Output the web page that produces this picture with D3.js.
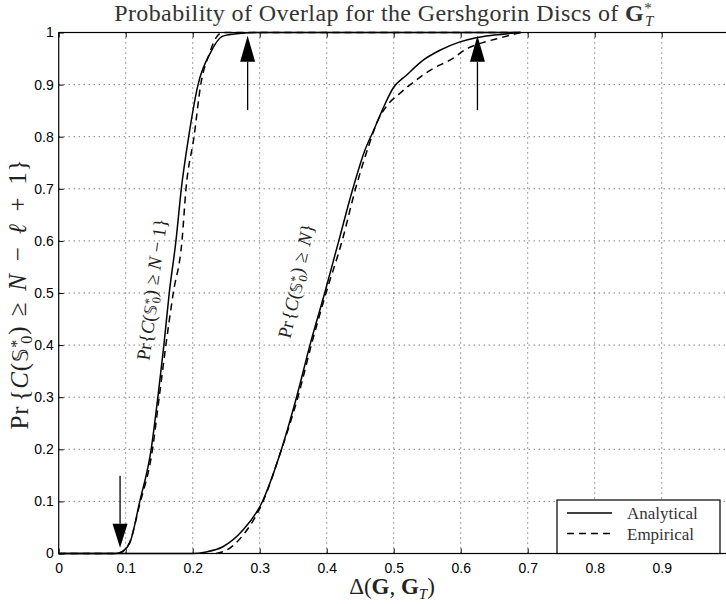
<!DOCTYPE html>
<html>
<head>
<meta charset="utf-8">
<script src="https://cdn.jsdelivr.net/npm/d3@7"></script>
<style>
  body { margin: 0; background: #fff; }
  svg { display: block; }
  .tick text { font-family: "Liberation Sans", Arial, sans-serif; font-size: 14px; }
  .serif { font-family: "Liberation Serif", "DejaVu Serif", serif; }
</style>
</head>
<body>
<div id="viz"></div>
<script>
// left pair: Pr{C >= N-1}
var xLeftAna = [0, 0.085, 0.095, 0.106, 0.121, 0.138, 0.148, 0.157, 0.165, 0.175, 0.183, 0.194, 0.208, 0.226, 0.245, 0.27, 0.3, 0.69];
var yLeftAna = [0, 0, 0.004, 0.02, 0.1, 0.2, 0.3, 0.4, 0.5, 0.6, 0.7, 0.8, 0.9, 0.96, 0.993, 0.998, 1, 1];
var xLeftEmp = [0, 0.088, 0.097, 0.107, 0.12, 0.14, 0.15, 0.16, 0.171, 0.184, 0.19, 0.202, 0.212, 0.225, 0.235, 0.245, 0.69];
var yLeftEmp = [0, 0, 0.005, 0.025, 0.09, 0.2, 0.3, 0.4, 0.5, 0.6, 0.7, 0.8, 0.9, 0.96, 0.99, 1, 1];
// right pair: Pr{C >= N}
var xRightAna = [0, 0.2, 0.22, 0.245, 0.275, 0.303, 0.33, 0.355, 0.375, 0.397, 0.418, 0.439, 0.457, 0.470, 0.484, 0.499, 0.519, 0.544, 0.569, 0.599, 0.623, 0.65, 0.689];
var yRightAna = [0, 0, 0.003, 0.013, 0.045, 0.097, 0.19, 0.3, 0.4, 0.5, 0.6, 0.7, 0.774, 0.812, 0.854, 0.893, 0.918, 0.947, 0.966, 0.982, 0.99, 0.995, 1];
var xRightEmp = [0.235, 0.25, 0.275, 0.305, 0.33, 0.357, 0.377, 0.399, 0.423, 0.443, 0.462, 0.476, 0.489, 0.509, 0.534, 0.559, 0.584, 0.611, 0.634, 0.66, 0.689];
var yRightEmp = [0, 0.006, 0.035, 0.1, 0.19, 0.3, 0.4, 0.5, 0.6, 0.7, 0.78, 0.83, 0.858, 0.883, 0.909, 0.931, 0.947, 0.97, 0.981, 0.99, 1];

var xTicks = [0, 0.1, 0.2, 0.3, 0.4, 0.5, 0.6, 0.7, 0.8, 0.9];
var yTicks = [0, 0.1, 0.2, 0.3, 0.4, 0.5, 0.6, 0.7, 0.8, 0.9, 1];
var legendLabels = ['Analytical', 'Empirical'];

var width = 726, height = 604;
var padL = 58.7, padR = 728.7, padT = 32.5, padB = 553.5;

var x = d3.scaleLinear().domain([0, 1]).range([padL, padR]);
var y = d3.scaleLinear().domain([0, 1]).range([padB, padT]);

var svg = d3.select('#viz').append('svg')
  .attr('width', width)
  .attr('height', height);

// grid
svg.append('g').selectAll('line').data(xTicks.slice(1))
  .enter().append('line')
    .attr('x1', d => x(d)).attr('x2', d => x(d))
    .attr('y1', padT).attr('y2', padB)
    .style('stroke', '#444').style('stroke-width', 1)
    .style('stroke-dasharray', '1,4');
svg.append('g').selectAll('line').data(yTicks.slice(1, -1))
  .enter().append('line')
    .attr('x1', padL).attr('x2', padR)
    .attr('y1', d => y(d)).attr('y2', d => y(d))
    .style('stroke', '#444').style('stroke-width', 1)
    .style('stroke-dasharray', '1,4');

// axes (ticks inside, MATLAB style)
var fmt = d3.format('');
svg.append('g').attr('transform', 'translate(0,' + padB + ')')
  .call(d3.axisBottom(x).tickValues(xTicks).tickFormat(fmt).tickSizeInner(-5).tickSizeOuter(0).tickPadding(10))
  .call(g => g.select('.domain').remove());
svg.append('g').attr('transform', 'translate(0,' + padT + ')')
  .call(d3.axisTop(x).tickValues(xTicks).tickFormat('').tickSizeInner(-5).tickSizeOuter(0))
  .call(g => g.select('.domain').remove());
svg.append('g').attr('transform', 'translate(' + padL + ',0)')
  .call(d3.axisLeft(y).tickValues(yTicks).tickFormat(fmt).tickSizeInner(-5).tickSizeOuter(0).tickPadding(5))
  .call(g => g.select('.domain').remove());
svg.selectAll('.tick line').style('stroke', '#000');

// frame
svg.append('rect')
  .attr('x', padL).attr('y', padT)
  .attr('width', padR - padL).attr('height', padB - padT)
  .style('fill', 'none').style('stroke', '#000').style('stroke-width', 1.2);

// curves
var line = d3.line().x(d => x(d[0])).y(d => y(d[1])).curve(d3.curveMonotoneX);
function pairs(xs, ys) { return xs.map(function(v, i) { return [v, ys[i]]; }); }
var curves = [
  { pts: pairs(xLeftAna, yLeftAna), dash: null },
  { pts: pairs(xLeftEmp, yLeftEmp), dash: '7,5' },
  { pts: pairs(xRightAna, yRightAna), dash: null },
  { pts: pairs(xRightEmp, yRightEmp), dash: '7,5' }
];
svg.append('g').selectAll('path').data(curves)
  .enter().append('path')
    .attr('d', d => line(d.pts))
    .style('fill', 'none').style('stroke', '#000').style('stroke-width', 1.5)
    .style('stroke-dasharray', d => d.dash);

// arrows
var arrows = [
  { at: 0.282, tail: 0.851, base: 0.944, tip: 0.994 },
  { at: 0.625, tail: 0.851, base: 0.944, tip: 0.994 },
  { at: 0.0916, tail: 0.149, base: 0.057, tip: 0.011 }
];
var ar = svg.append('g').selectAll('g').data(arrows).enter().append('g');
ar.append('line')
  .attr('x1', d => x(d.at)).attr('x2', d => x(d.at))
  .attr('y1', d => y(d.tail)).attr('y2', d => y(d.base))
  .style('stroke', '#000').style('stroke-width', 1.3);
ar.append('path')
  .attr('d', function(d) {
    var cx = x(d.at);
    return 'M' + (cx - 7.5) + ',' + y(d.base) + 'L' + (cx + 7.5) + ',' + y(d.base) + 'L' + cx + ',' + y(d.tip) + 'Z';
  })
  .style('fill', '#000');

// title
var title = svg.append('text').attr('class', 'serif')
  .attr('x', 384).attr('y', 21).attr('text-anchor', 'middle')
  .style('font-size', '24px').style('letter-spacing', '0.4px').style('fill', '#333');
title.append('tspan').text('Probability of Overlap for the Gershgorin Discs of ');
title.append('tspan').style('font-weight', 'bold').text('G');
title.append('tspan').attr('dy', -8).style('font-size', '15px').text('*');
title.append('tspan').attr('dx', -7).attr('dy', 13).style('font-size', '15px').style('font-style', 'italic').text('T');

// x label
var xl = svg.append('text').attr('class', 'serif')
  .attr('x', 392).attr('y', 594).attr('text-anchor', 'middle')
  .style('font-size', '23px').style('fill', '#222');
xl.append('tspan').text('Δ(');
xl.append('tspan').style('font-weight', 'bold').text('G');
xl.append('tspan').text(', ');
xl.append('tspan').style('font-weight', 'bold').text('G');
xl.append('tspan').attr('dy', 5).style('font-size', '15px').style('font-style', 'italic').text('T');
xl.append('tspan').attr('dy', -5).text(')');

// probability label builder; gap = extra space around relations (px)
function probLabel(sel, gap, tail) {
  sel.append('tspan').text('Pr');
  sel.append('tspan').attr('dx', gap * 0.5).text('{');
  sel.append('tspan').style('font-style', 'italic').text('C');
  sel.append('tspan').text('(');
  sel.append('tspan').style('font-family', '"DejaVu Sans", sans-serif').style('font-size', '0.85em').text('𝕊');
  sel.append('tspan').attr('dy', '-0.38em').style('font-size', '0.65em').text('*');
  sel.append('tspan').attr('dx', '-0.3em').attr('dy', '0.6em').style('font-size', '0.65em').text('0');
  sel.append('tspan').attr('dy', '-0.24em').text(')');
  sel.append('tspan').attr('dx', gap * 0.3).text(' ≥ ');
  tail(sel);
}

// y label
var g1 = 8;
var yl = svg.append('text').attr('class', 'serif')
  .attr('transform', 'translate(28,294) rotate(-90)')
  .attr('text-anchor', 'middle')
  .style('font-size', '25px').style('letter-spacing', '0.8px').style('fill', '#222');
probLabel(yl, g1, function(s) {
  s.append('tspan').attr('dx', g1 * 0.5).style('font-style', 'italic').text('N');
  s.append('tspan').attr('dx', g1 * 0.6).text(' − ');
  s.append('tspan').attr('dx', g1 * 0.6).style('font-style', 'italic').text('ℓ');
  s.append('tspan').attr('dx', g1 * 0.6).text(' + ');
  s.append('tspan').attr('dx', g1 * 0.6).text('1}');
});

// curve labels
var c1 = svg.append('text').attr('class', 'serif')
  .attr('transform', 'translate(' + (x(0.15)) + ',' + y(0.505) + ') rotate(-82)')
  .attr('text-anchor', 'middle')
  .style('font-size', '19px').style('fill', '#222');
probLabel(c1, 1, function(s) {
  s.append('tspan').style('font-style', 'italic').text('N');
  s.append('tspan').text(' − 1}');
});
var c2 = svg.append('text').attr('class', 'serif')
  .attr('transform', 'translate(' + (x(0.365)) + ',' + y(0.52) + ') rotate(-77)')
  .attr('text-anchor', 'middle')
  .style('font-size', '19px').style('fill', '#222');
probLabel(c2, 3, function(s) {
  s.append('tspan').attr('dx', 2).style('font-style', 'italic').text('N');
  s.append('tspan').text('}');
});

// legend
var lg = svg.append('g');
lg.append('rect')
  .attr('x', 557).attr('y', 500).attr('width', 163).attr('height', padB - 500)
  .style('fill', '#fff').style('stroke', '#000').style('stroke-width', 1.2);
var rows = lg.selectAll('g').data(legendLabels).enter().append('g')
  .attr('transform', (d, i) => 'translate(0,' + (513 + i * 20.5) + ')');
rows.append('line')
  .attr('x1', 567).attr('x2', 612)
  .style('stroke', '#000').style('stroke-width', 1.5)
  .style('stroke-dasharray', (d, i) => i ? '7,5' : null);
rows.append('text').attr('class', 'serif')
  .attr('x', 627).attr('y', 6)
  .style('font-size', '17px').style('fill', '#333')
  .text(d => d);
</script>
</body>
</html>
